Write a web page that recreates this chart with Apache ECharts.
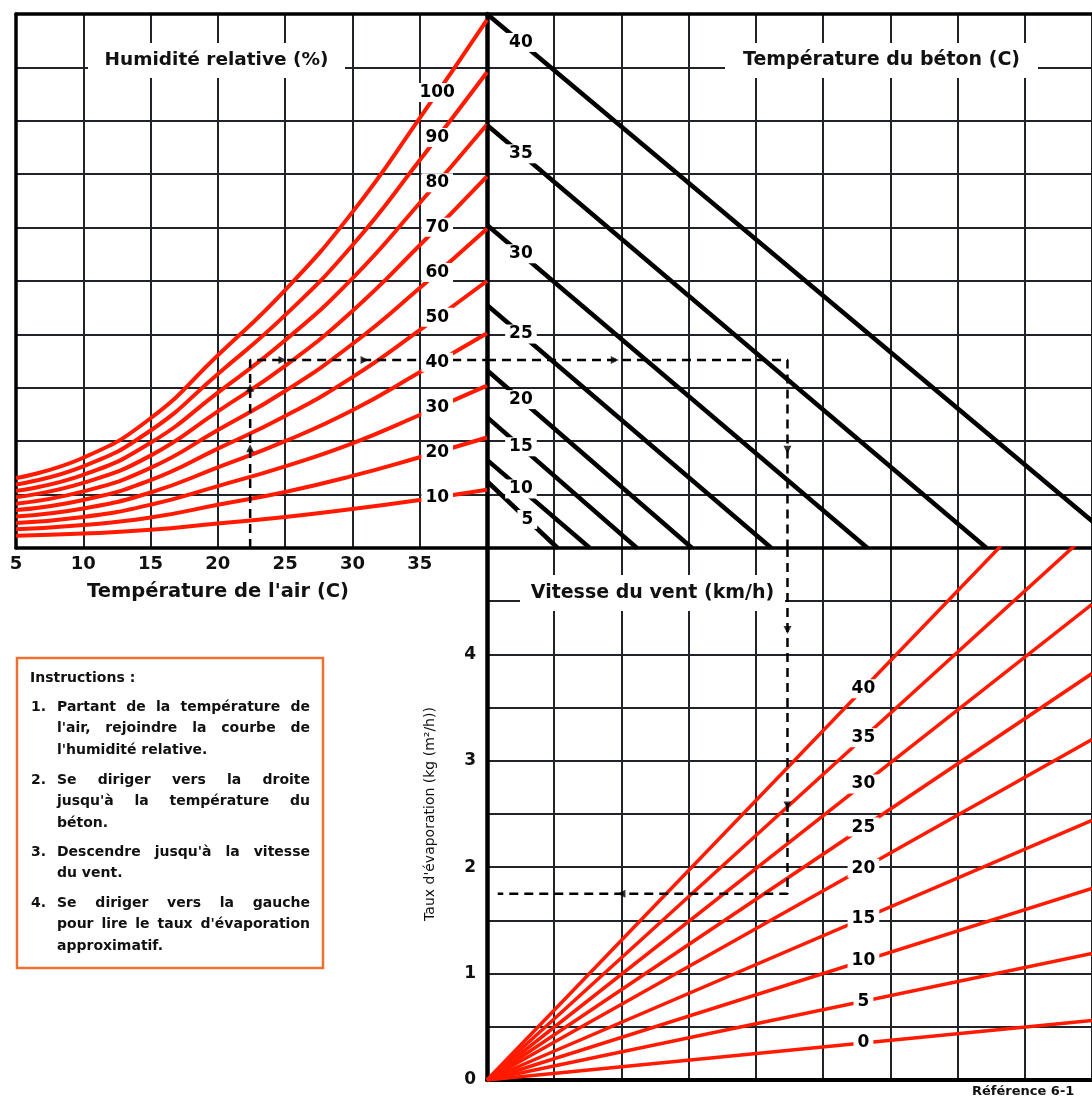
<!DOCTYPE html>
<html><head><meta charset="utf-8">
<script src="https://cdn.jsdelivr.net/npm/echarts/dist/echarts.min.js"></script>
<style>html,body{margin:0;padding:0;background:#fff}#c{width:1092px;height:1099px}</style>
</head><body><div id="c"></div>
<script>
// ---------------- DATA ----------------
// Upper-left: air temperature (°C) vs. vapour-pressure units (0..10)
const airTemps = [5, 10, 15, 20, 25, 30, 35, 40];
const rhLevels = [10, 20, 30, 40, 50, 60, 70, 80, 90, 100];
const rh10  = [0.23, 0.27, 0.34, 0.46, 0.58, 0.73, 0.90, 1.09];
const rh20  = [0.35, 0.43, 0.57, 0.81, 1.05, 1.35, 1.70, 2.07];
const rh30  = [0.47, 0.58, 0.81, 1.16, 1.53, 1.96, 2.49, 3.04];
const rh40  = [0.59, 0.74, 1.04, 1.51, 2.00, 2.58, 3.29, 4.02];
const rh50  = [0.71, 0.90, 1.27, 1.86, 2.47, 3.20, 4.08, 5.00];
const rh60  = [0.83, 1.06, 1.50, 2.21, 2.94, 3.82, 4.87, 5.98];
const rh70  = [0.95, 1.22, 1.73, 2.56, 3.41, 4.44, 5.67, 6.96];
const rh80  = [1.07, 1.37, 1.97, 2.91, 3.89, 5.05, 6.46, 7.93];
const rh90  = [1.19, 1.53, 2.20, 3.26, 4.36, 5.67, 7.26, 8.91];
const rh100 = [1.31, 1.69, 2.43, 3.61, 4.83, 6.29, 8.05, 9.89];
const rhCurves = [rh10, rh20, rh30, rh40, rh50, rh60, rh70, rh80, rh90, rh100];
const airTickLabels = [5, 10, 15, 20, 25, 30, 35];

// Upper-right: concrete temperature lines (start on centre axis, end on bottom axis)
const concreteTemps  = [5, 10, 15, 20, 25, 30, 35, 40];
const concreteStartY = [1.25, 1.65, 2.45, 3.33, 4.55, 6.05, 7.92, 10.0];
const concreteEndX   = [1.05, 1.53, 2.23, 3.05, 4.23, 5.66, 7.43, 9.48];

// Lower-right: wind speed lines (km/h), evaporation rate reached at the right edge (x = 9)
const windSpeeds      = [0, 5, 10, 15, 20, 25, 30, 35, 40];
const windRateAtRight = [0.56, 1.19, 1.80, 2.44, 3.20, 3.82, 4.47, 5.17, 5.91];
const rateTickLabels  = [0, 1, 2, 3, 4];

// Worked example (dashed path)
const exampleAir = 22.4, exampleVapour = 3.52, exampleX = 4.47, exampleRate = 1.75, exampleEndX = 0.16;

const instructions = [
  ["Partant de la température de", "l'air, rejoindre la courbe de", "l'humidité relative."],
  ["Se diriger vers la droite", "jusqu'à la température du", "béton."],
  ["Descendre jusqu'à la vitesse", "du vent."],
  ["Se diriger vers la gauche", "pour lire le taux d'évaporation", "approximatif."]
];

// ---------------- helpers / styles ----------------
const RED = '#ff1a00', INK = '#111', GRID = '#202428';
const FONT = '"DejaVu Sans", sans-serif';
function interp(xs, ys, x) {
  for (let i = 0; i < xs.length - 1; i++) {
    if (x >= xs[i] && x <= xs[i + 1]) { const t = (x - xs[i]) / (xs[i + 1] - xs[i]); return ys[i] + t * (ys[i + 1] - ys[i]); }
  }
  return ys[ys.length - 1];
}
const numLabel = {show: true, position: 'inside', formatter: '{b}', color: '#000', opacity: 1, fontFamily: FONT, fontWeight: 'bold', fontSize: 17,
  backgroundColor: '#ffffff', padding: [1, 4], textBorderWidth: 0, textShadowBlur: 0};
const split = {show: true, lineStyle: {color: GRID, width: 2}};
const thick = w => ({show: true, lineStyle: {color: '#000', width: w}});
const hidden = {color: '#ffffff', opacity: 1};
const labelSeries = (ax, ay, data) => ({type: 'scatter', xAxisIndex: ax, yAxisIndex: ay, symbolSize: 1, itemStyle: hidden, z: 10, silent: true,
  label: numLabel, emphasis: {disabled: true}, labelLayout: {hideOverlap: false}, data});

const series = [];
// humidity curves
rhCurves.forEach((vals, i) => series.push({
  type: 'line', xAxisIndex: 0, yAxisIndex: 0, smooth: 0.5, symbol: 'none', silent: true, z: 3,
  lineStyle: {color: RED, width: 4}, data: airTemps.map((t, j) => [t, vals[j]])
}));
series.push(labelSeries(0, 0, rhLevels.map((r, i) => ({name: String(r), value: [36.3, interp(airTemps, rhCurves[i], 36.3)]}))));
// concrete temperature lines
concreteTemps.forEach((c, i) => series.push({
  type: 'line', xAxisIndex: 1, yAxisIndex: 1, symbol: 'none', silent: true, z: 3, clip: true,
  lineStyle: {color: '#000', width: 4.5}, data: [[0, concreteStartY[i]], [concreteEndX[i], 0]]
}));
series.push(labelSeries(1, 1, concreteTemps.map((c, i) => { const lx = i === 0 ? 0.6 : 0.505; return {name: String(c), value: [lx, concreteStartY[i] * (1 - lx / concreteEndX[i])]}; })));
// wind lines
windSpeeds.forEach((w, i) => series.push({
  type: 'line', xAxisIndex: 2, yAxisIndex: 2, symbol: 'none', silent: true, z: 3, clip: true,
  lineStyle: {color: RED, width: 3.5}, data: [[0, 0], [9, windRateAtRight[i]]]
}));
series.push(labelSeries(2, 2, windSpeeds.map((w, i) => ({name: String(w), value: [5.6, windRateAtRight[i] * 5.6 / 9]}))));
// dashed worked example
const dash = {color: '#000', width: 2.5, type: [9, 6]};
series.push({type: 'line', xAxisIndex: 0, yAxisIndex: 0, symbol: 'none', z: 6, silent: true, lineStyle: dash,
  data: [[exampleAir, 0], [exampleAir, exampleVapour], [40, exampleVapour]]});
series.push({type: 'line', xAxisIndex: 1, yAxisIndex: 1, symbol: 'none', z: 6, silent: true, lineStyle: dash,
  data: [[0, exampleVapour], [exampleX, exampleVapour], [exampleX, 0]]});
series.push({type: 'line', xAxisIndex: 2, yAxisIndex: 2, symbol: 'none', z: 6, silent: true, lineStyle: dash,
  data: [[exampleX, 5], [exampleX, exampleRate], [exampleEndX, exampleRate]]});
const arrow = (ax, ay, pts, rot) => ({type: 'scatter', xAxisIndex: ax, yAxisIndex: ay, symbol: 'triangle', symbolSize: 8, symbolRotate: rot,
  itemStyle: {color: '#000'}, z: 7, silent: true, data: pts});
series.push(arrow(0, 0, [[exampleAir, 1.87], [exampleAir, 3.0]], 0));
series.push(arrow(0, 0, [[24.8, exampleVapour], [30.9, exampleVapour]], -90));
series.push(arrow(1, 1, [[1.9, exampleVapour]], -90));
series.push(arrow(1, 1, [[exampleX, 1.84]], 180));
series.push(arrow(2, 2, [[exampleX, 4.23], [exampleX, 2.58]], 180));
series.push(arrow(2, 2, [[2.0, exampleRate]], 90));

// ---------------- graphics (titles, instructions) ----------------
const graphic = [];
function titleBox(x, y, w, h, text, size) {
  graphic.push({type: 'rect', z: 100, shape: {x, y, width: w, height: h}, style: {fill: '#fff'}});
  graphic.push({type: 'text', z: 101, x: x + w / 2, y: y + h / 2,
    style: {text, fill: INK, font: 'bold ' + size + 'px ' + FONT, textAlign: 'center', textVerticalAlign: 'middle', align: 'center', verticalAlign: 'middle'}});
}
titleBox(88, 43, 257, 35, 'Humidité relative (%)', 18.5);
titleBox(725, 43, 313, 35, 'Température du béton (C)', 19);
titleBox(520, 575, 265, 36, 'Vitesse du vent (km/h)', 19);
graphic.push({type: 'text', z: 101, x: 218, y: 592,
  style: {text: "Température de l'air (C)", fill: INK, font: 'bold 19.5px ' + FONT, textAlign: 'center', textVerticalAlign: 'middle', align: 'center', verticalAlign: 'middle'}});
graphic.push({type: 'text', z: 101, x: 972, y: 1085,
  style: {text: 'Référence 6-1', fill: INK, font: 'bold 13px ' + FONT, textAlign: 'left', textVerticalAlign: 'top', align: 'left', verticalAlign: 'top'}});
// instructions box
graphic.push({type: 'rect', z: 100, shape: {x: 17, y: 658, width: 306, height: 310}, style: {fill: 'none', stroke: '#f07030', lineWidth: 2.5}});
const iFont = 'bold 14px ' + FONT;
graphic.push({type: 'text', z: 101, x: 30, y: 678, style: {text: 'Instructions :', fill: INK, font: iFont, textVerticalAlign: 'middle', verticalAlign: 'middle'}});
const cv = document.createElement('canvas').getContext('2d'); cv.font = iFont;
const paraY = [707, 780, 852, 903], lineH = 21.5, txtL = 57, txtR = 310;
instructions.forEach((para, p) => {
  graphic.push({type: 'text', z: 101, x: 31, y: paraY[p], style: {text: (p + 1) + '.', fill: INK, font: iFont, textVerticalAlign: 'middle', verticalAlign: 'middle'}});
  para.forEach((line, k) => {
    const y = paraY[p] + k * lineH;
    const words = line.split(' ');
    const last = k === para.length - 1;
    const widths = words.map(w => cv.measureText(w).width);
    const total = widths.reduce((a, b) => a + b, 0);
    const space = cv.measureText(' ').width;
    let gap = (!last && words.length > 1) ? (txtR - txtL - total) / (words.length - 1) : space;
    if (gap < space * 0.6) gap = space * 0.6;
    let x = txtL;
    words.forEach((w, i) => {
      graphic.push({type: 'text', z: 101, x, y, style: {text: w, fill: INK, font: iFont, textVerticalAlign: 'middle', verticalAlign: 'middle'}});
      x += widths[i] + gap;
    });
  });
});

// ---------------- chart ----------------
const chart = echarts.init(document.getElementById('c'), null, {renderer: 'canvas'});
chart.setOption({
  animation: false,
  backgroundColor: '#fff',
  grid: [
    {left: 16, top: 14, width: 471, height: 534},
    {left: 487, top: 14, width: 605, height: 534},
    {left: 487, top: 548, width: 605, height: 532}
  ],
  xAxis: [
    {gridIndex: 0, type: 'value', min: 5, max: 40, interval: 5, position: 'bottom', splitLine: split, axisLine: thick(3.5), axisTick: {show: false},
      axisLabel: {margin: 7, color: INK, fontFamily: FONT, fontWeight: 'bold', fontSize: 18, formatter: v => airTickLabels.includes(v) ? String(v) : ''}},
    {gridIndex: 1, type: 'value', min: 0, max: 9, interval: 1, position: 'bottom', splitLine: split, axisLine: thick(3.5), axisTick: {show: false}, axisLabel: {show: false}},
    {gridIndex: 2, type: 'value', min: 0, max: 9, interval: 1, position: 'bottom', splitLine: split, axisLine: thick(4), axisTick: {show: false}, axisLabel: {show: false}},
    {gridIndex: 0, type: 'value', min: 5, max: 40, interval: 5, position: 'top', splitLine: {show: false}, axisLine: thick(3.5), axisTick: {show: false}, axisLabel: {show: false}},
    {gridIndex: 1, type: 'value', min: 0, max: 9, interval: 1, position: 'top', splitLine: {show: false}, axisLine: thick(3.5), axisTick: {show: false}, axisLabel: {show: false}}
  ],
  yAxis: [
    {gridIndex: 0, type: 'value', min: 0, max: 10, interval: 1, splitLine: split, axisLine: thick(3.5), axisTick: {show: false}, axisLabel: {show: false}},
    {gridIndex: 1, type: 'value', min: 0, max: 10, interval: 1, splitLine: split, axisLine: thick(4.5), axisTick: {show: false}, axisLabel: {show: false}},
    {gridIndex: 2, type: 'value', min: 0, max: 5, interval: 0.5, splitLine: split, axisLine: thick(4.5), axisTick: {show: false},
      axisLabel: {margin: 11, color: INK, fontFamily: FONT, fontWeight: 'bold', fontSize: 17, formatter: v => rateTickLabels.includes(v) ? String(v) : ''},
      name: "Taux d'évaporation (kg (m²/h))", nameLocation: 'middle', nameGap: 50, nameRotate: 90,
      nameTextStyle: {color: INK, fontFamily: FONT, fontSize: 14}}
  ],
  series,
  graphic
});
</script></body></html>
